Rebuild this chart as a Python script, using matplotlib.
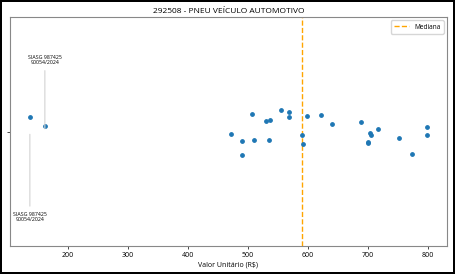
import matplotlib.pyplot as plt
import numpy as np

plt.rcParams['font.family'] = ['Open Sans', 'DejaVu Sans']

# valores unitarios (R$) e deslocamento vertical (jitter) de cada ponto
valores = [136.2, 161.2, 472.2, 489.5, 489.5, 506.2, 509.5, 530.0, 537.2, 535.5,
           554.5, 568.8, 568.8, 589.5, 591.0, 597.8, 621.7, 640.0, 688.8, 703.8,
           705.5, 717.2, 699.5, 700.0, 751.2, 773.8, 798.3, 798.3]
jitter = [0.127, 0.050, -0.022, -0.083, -0.203, 0.153, -0.077, 0.094, 0.098, -0.077,
          0.188, 0.173, 0.124, -0.028, -0.112, 0.133, 0.141, 0.063, 0.080, -0.016,
          -0.031, 0.024, -0.092, -0.100, -0.059, -0.197, 0.037, -0.033]

# outliers anotados
outlier_x = [161.2, 136.2]
outlier_txt = ['SIASG 987425\n90054/2024', 'SIASG 987425\n90054/2024']
outlier_lado = [1, -1]  # 1 = acima, -1 = abaixo

titulo = '292508 - PNEU VEÍCULO AUTOMOTIVO'

fig = plt.figure(figsize=(4.55, 2.74), dpi=100)
fig.patch.set_edgecolor('black')
fig.patch.set_linewidth(1.5)
ax = fig.add_axes([0.022, 0.102, 0.960, 0.836])

ax.scatter(valores, jitter, s=6, color='#1f77b4', zorder=3)

mediana = np.median(valores)
ax.axvline(mediana, color='orange', linestyle='--', linewidth=1, label='Mediana')

for x, txt, lado in zip(outlier_x, outlier_txt, outlier_lado):
    if lado > 0:
        ax.annotate(txt, xy=(x, 0), xytext=(x, 0.58), ha='center', va='bottom',
                    fontsize=3.8, linespacing=1.1,
                    arrowprops=dict(arrowstyle='-', color='lightgray', lw=0.8))
    else:
        ax.annotate(txt, xy=(x, 0), xytext=(x, -0.70), ha='center', va='top',
                    fontsize=3.8, linespacing=1.1,
                    arrowprops=dict(arrowstyle='-', color='lightgray', lw=0.8))

ax.set_ylim(-1, 1)
ax.set_yticks([0])
ax.set_yticklabels([''])
ax.tick_params(axis='both', labelsize=5, length=2, width=0.5, pad=2)
ax.set_xlabel('Valor Unitário (R$)', fontsize=5, labelpad=2)
ax.set_title(titulo, fontsize=6.0, pad=3)
for s in ax.spines.values():
    s.set_color('#888888')
    s.set_linewidth(0.8)

ax.legend(loc='upper right', fontsize=4.7, handlelength=2.2, borderpad=0.5)

plt.savefig('out.png', dpi=100)
